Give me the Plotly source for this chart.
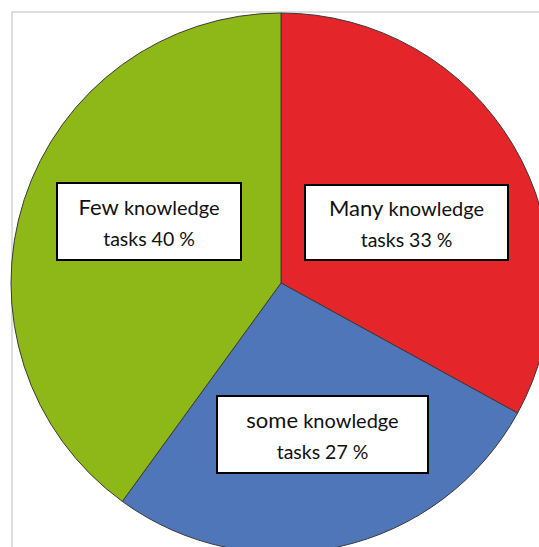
import plotly.graph_objects as go

# ---- data ----
first_words = ["Many", "some", "Few"]
values = [33, 27, 40]
colors = ["#E4252A", "#4F76B9", "#8DB818"]

# label box positions (pixel centres in reference) and sizes
box_cx = [406, 322, 148.5]
box_cy = [223, 434, 222]
box_w = [201, 209, 182]
box_h = [73, 75, 75]

W, H = 560, 560

fig = go.Figure()
fig.add_trace(go.Pie(
    labels=[f"{w} knowledge tasks" for w in first_words],
    values=values,
    marker=dict(colors=colors, line=dict(color="#3a3a3a", width=1)),
    sort=False,
    direction="clockwise",
    rotation=0,
    textinfo="none",
    hoverinfo="label+percent",
    showlegend=False,
    domain=dict(x=[11 / W, 551 / W], y=[1 - 553 / H, 1 - 13 / H]),
))

# frame
fig.add_shape(type="rect", xref="paper", yref="paper",
              x0=12 / W, x1=548 / W, y0=1 - 552 / H, y1=1 - 12 / H,
              line=dict(color="#d4d4d4", width=1.5), fillcolor="rgba(0,0,0,0)",
              layer="below")

for w, v, cx, cy, bw, bh in zip(first_words, values, box_cx, box_cy, box_w, box_h):
    txt = (f"<span style='font-size:22px'>{w}</span>"
           f"<span style='font-size:20px'> knowledge</span><br>"
           f"<span style='font-size:19.5px'>tasks {v} %</span>")
    fig.add_annotation(
        x=cx / W, y=1 - cy / H, xref="paper", yref="paper",
        xanchor="center", yanchor="middle",
        text=txt, showarrow=False,
        width=bw, height=bh, align="center", valign="middle",
        bgcolor="white", bordercolor="black", borderwidth=2, borderpad=0,
        font=dict(family="Lato, sans-serif", size=24, color="#111111"),
    )

fig.update_layout(
    width=W, height=H, autosize=False,
    margin=dict(l=0, r=0, t=0, b=0),
    paper_bgcolor="white", plot_bgcolor="white",
)

fig.write_html("out.html",
               post_script="document.documentElement.style.overflow='hidden';document.body.style.overflow='hidden';")
